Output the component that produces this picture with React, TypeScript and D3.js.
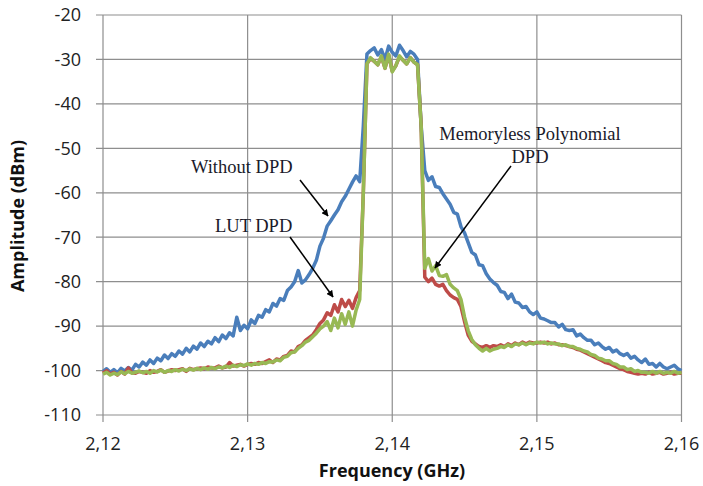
import React from "react";
import * as d3 from "d3";

const FREQ_START = 2.12;
const FREQ_STEP = 0.00025;

const withoutDPD = [
  -100.2, -99.6, -100.4, -99.8, -100.5, -99.5, -100.1, -99.3, -99.9, -98.6,
  -99.2, -98.1, -98.8, -97.6, -98.4, -97.2, -97.8, -96.5, -97.3, -96.2,
  -96.8, -95.6, -96.3, -95.0, -95.8, -94.5, -95.2, -93.8, -94.6, -93.4,
  -94.0, -92.6, -93.5, -92.0, -92.8, -91.5, -92.2, -88.0, -91.0, -89.8,
  -90.6, -88.6, -89.4, -87.6, -88.0, -86.3, -86.8, -84.9, -85.5, -83.8,
  -84.2, -82.0, -81.2, -80.0, -77.5, -80.3, -79.6, -78.4, -77.0, -75.2,
  -72.0, -70.2, -67.5, -66.3, -65.0, -63.8, -62.0, -60.8, -59.2, -57.6,
  -56.2, -57.5, -45.0, -28.8, -28.0, -27.4, -29.0, -27.8, -30.0, -27.0,
  -28.4, -29.2, -26.8, -28.0, -29.4, -28.2, -28.8, -30.0, -45.0, -55.0,
  -57.2, -56.4, -58.6, -58.8, -60.2, -61.4, -62.6, -64.4, -64.8, -67.6,
  -69.0, -71.2, -73.4, -74.0, -76.2, -76.4, -78.2, -79.4, -80.2, -80.8,
  -82.2, -82.4, -83.8, -82.8, -84.6, -84.8, -85.8, -85.6, -86.8, -87.4,
  -86.8, -88.2, -88.4, -88.8, -89.2, -89.2, -90.2, -89.6, -90.8, -91.0,
  -90.8, -92.2, -91.8, -92.6, -93.2, -93.2, -94.2, -93.8, -94.6, -95.2,
  -94.8, -95.8, -95.4, -96.2, -96.6, -96.2, -97.2, -96.8, -97.6, -98.2,
  -97.4, -98.6, -98.4, -99.2, -98.4, -99.2, -99.6, -99.2, -98.8, -99.6,
  -100.0,
];

const lutDPD = [
  -100.6, -100.0, -100.8, -100.4, -101.0, -100.2, -100.8, -99.4, -100.5, -100.6,
  -100.2, -100.4, -100.6, -100.0, -100.4, -100.2, -99.8, -100.4, -100.1, -99.8,
  -100.0, -99.8, -99.6, -100.2, -99.5, -99.8, -99.6, -99.4, -99.6, -99.2,
  -99.4, -99.4, -99.0, -99.4, -99.2, -98.2, -99.0, -98.8, -98.6, -99.0,
  -98.6, -98.4, -98.6, -98.2, -98.4, -98.0, -97.6, -98.2, -97.4, -97.6,
  -96.8, -96.6, -95.6, -95.8, -94.6, -94.2, -93.2, -92.6, -92.0, -90.8,
  -89.4, -88.6, -87.0, -87.6, -85.2, -86.8, -84.0, -85.6, -84.2, -86.0,
  -83.6, -82.0, -60.0, -31.0, -29.8, -30.4, -31.2, -29.4, -32.0, -29.0,
  -32.6, -31.4, -29.4, -30.2, -31.0, -29.6, -30.6, -31.2, -45.0, -79.0,
  -80.0, -79.2, -80.6, -81.0, -80.6, -82.0, -83.0, -83.6, -84.0, -85.6,
  -89.0, -92.0, -93.4, -94.0, -94.6, -94.8, -94.4, -94.8, -94.4, -94.6,
  -94.2, -94.6, -94.0, -94.4, -93.8, -94.2, -93.6, -94.0, -93.6, -93.8,
  -93.8, -93.6, -93.8, -93.6, -94.0, -93.8, -94.2, -94.2, -94.4, -94.6,
  -94.8, -95.2, -95.4, -95.8, -96.2, -96.6, -97.0, -97.4, -97.8, -98.2,
  -98.4, -98.8, -99.2, -99.6, -99.8, -100.2, -100.4, -100.6, -100.8, -100.6,
  -100.8, -100.4, -100.8, -100.6, -100.4, -100.8, -100.6, -100.4, -100.8, -100.6,
  -100.6,
];

const memorylessDPD = [
  -100.8, -100.4, -101.0, -100.6, -100.9, -100.3, -100.7, -100.2, -100.6, -100.4,
  -100.1, -100.5, -100.2, -100.6, -100.0, -100.3, -99.9, -100.4, -100.0, -100.2,
  -99.8, -100.1, -99.7, -100.0, -99.6, -99.9, -99.5, -99.8, -99.4, -99.7,
  -99.3, -99.6, -99.2, -99.4, -99.0, -99.3, -98.8, -99.1, -98.7, -98.9,
  -98.5, -98.8, -98.4, -98.6, -98.2, -98.4, -98.0, -98.1, -97.6, -97.8,
  -97.0, -96.8, -96.0, -95.8, -95.0, -94.4, -93.6, -93.2, -92.4, -91.6,
  -90.6, -90.0, -89.0, -91.0, -88.2, -90.4, -87.2, -89.6, -86.8, -90.0,
  -86.4, -84.0, -60.0, -31.0, -29.6, -30.4, -31.2, -29.2, -32.0, -28.8,
  -32.8, -31.4, -29.2, -30.2, -31.0, -29.6, -30.6, -31.2, -45.0, -77.0,
  -74.8, -77.6, -76.4, -78.6, -78.8, -78.4, -80.6, -81.4, -82.0, -84.0,
  -88.0, -91.0, -93.0, -94.2, -95.0, -95.6, -95.0, -95.6, -95.2, -95.0,
  -94.6, -94.8, -94.2, -94.6, -94.0, -94.2, -93.8, -94.2, -93.8, -94.0,
  -93.6, -93.8, -93.6, -94.0, -93.8, -94.0, -94.0, -94.4, -94.2, -94.6,
  -94.6, -95.0, -95.2, -95.6, -95.8, -96.4, -96.6, -97.2, -97.4, -97.8,
  -97.8, -98.4, -98.6, -99.2, -99.2, -99.8, -99.6, -100.2, -100.0, -100.4,
  -100.4, -100.6, -100.2, -100.6, -100.2, -100.6, -100.4, -100.6, -100.2, -100.6,
  -100.4,
];

const xTicks = [2.12, 2.13, 2.14, 2.15, 2.16];
const xTickLabels = ["2,12", "2,13", "2,14", "2,15", "2,16"];
const yTicks = [-20, -30, -40, -50, -60, -70, -80, -90, -100, -110];

const seriesList = [
  { name: "Without DPD", values: withoutDPD, color: "#4A7EBB" },
  { name: "LUT DPD", values: lutDPD, color: "#BE4B48" },
  { name: "Memoryless Polynomial DPD", values: memorylessDPD, color: "#98B954" },
];

const annotations = [
  { lines: ["Without DPD"], x: 191, y: 173, anchor: "start", from: [300, 180], to: [328, 216] },
  { lines: ["LUT DPD"], x: 215, y: 232, anchor: "start", from: [290, 237], to: [333, 297] },
  { lines: ["Memoryless Polynomial", "DPD"], x: 530, y: 140, anchor: "middle", from: [511, 166], to: [435, 268] },
];

export default function App() {
  const W = 703;
  const H = 486;
  const left = 103;
  const right = 681.5;
  const top = 15;
  const bottom = 415;

  const x = d3.scaleLinear().domain([2.12, 2.16]).range([left, right]);
  const y = d3.scaleLinear().domain([-110, -20]).range([bottom, top]);

  const line = d3
    .line<number>()
    .x((_, i) => x(FREQ_START + i * FREQ_STEP))
    .y((v) => y(v));

  const grid = "#8E8E8E";
  const sans = "'Open Sans', 'Liberation Sans', sans-serif";
  const serif = "'Liberation Serif', 'DejaVu Serif', serif";

  return (
    <svg
      width={W}
      height={H}
      style={{ position: "absolute", left: 0, top: 0, background: "#fff" }}
    >
      <defs>
        <marker id="arr" viewBox="0 0 10 10" refX="9" refY="5" markerWidth="7" markerHeight="7" orient="auto-start-reverse" markerUnits="userSpaceOnUse">
          <path d="M0,0 L10,5 L0,10 z" fill="#000" />
        </marker>
      </defs>
      {yTicks.map((t) => (
        <g key={t}>
          <line x1={left - 7} x2={right} y1={y(t)} y2={y(t)} stroke={grid} strokeWidth={1.2} />
          <text x={81} y={y(t)} dy="0.35em" textAnchor="end" fontFamily={sans} fontSize={18} fill="#222">
            {t}
          </text>
        </g>
      ))}
      {xTicks.map((t, i) => (
        <g key={t}>
          <line x1={x(t)} x2={x(t)} y1={top} y2={bottom + 7} stroke={grid} strokeWidth={1.2} />
          <text x={x(t)} y={450} textAnchor="middle" fontFamily={sans} fontSize={18} fill="#222">
            {xTickLabels[i]}
          </text>
        </g>
      ))}
      {seriesList.map((s) => (
        <path
          key={s.name}
          d={line(s.values) ?? ""}
          fill="none"
          stroke={s.color}
          strokeWidth={3.5}
          strokeLinejoin="round"
        />
      ))}
      <text x={392} y={477} textAnchor="middle" fontFamily={sans} fontWeight="bold" fontSize={18} fill="#111">
        Frequency (GHz)
      </text>
      <text
        transform={`translate(24,216) rotate(-90)`}
        textAnchor="middle"
        fontFamily={sans}
        fontWeight="bold"
        fontSize={18}
        fill="#111"
      >
        Amplitude (dBm)
      </text>
      {annotations.map((a, k) => (
        <g key={k}>
          {a.lines.map((ln, j) => (
            <text key={j} x={a.x} y={a.y + j * 23} textAnchor={a.anchor} fontFamily={serif} fontSize={18.5} fill="#1a1a2a">
              {ln}
            </text>
          ))}
          <line x1={a.from[0]} y1={a.from[1]} x2={a.to[0]} y2={a.to[1]} stroke="#000" strokeWidth={1.5} markerEnd="url(#arr)" />
        </g>
      ))}
    </svg>
  );
}
